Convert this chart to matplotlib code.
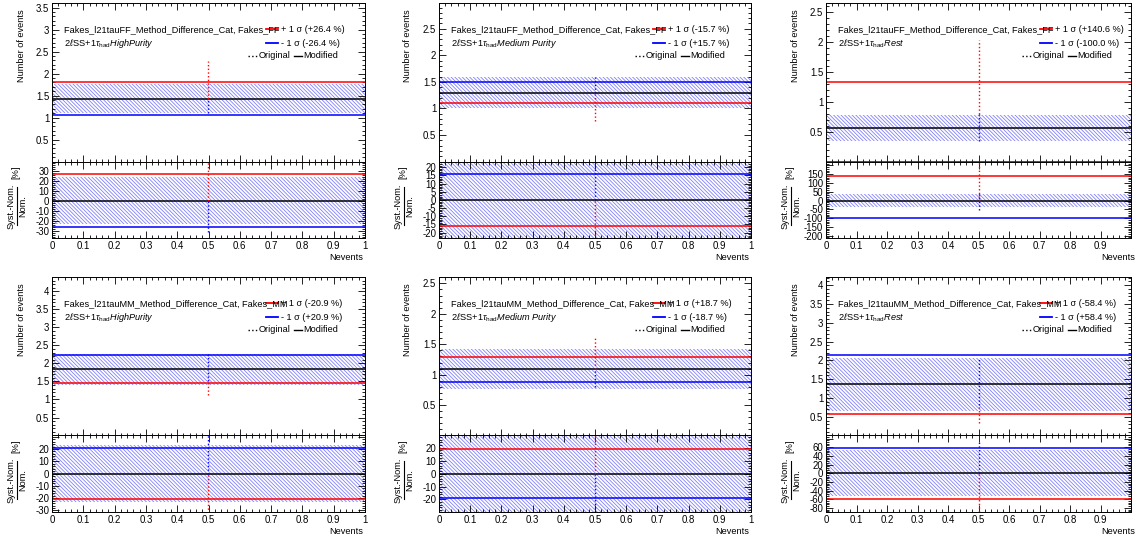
import matplotlib
matplotlib.use("Agg")
import matplotlib.pyplot as plt
from matplotlib.ticker import MultipleLocator, AutoMinorLocator, FuncFormatter

plt.rcParams['font.family'] = ['Liberation Sans', 'DejaVu Sans']
plt.rcParams['mathtext.fontset'] = 'custom'
plt.rcParams['mathtext.rm'] = 'Liberation Sans'
plt.rcParams['mathtext.it'] = 'Liberation Sans:italic'
plt.rcParams['mathtext.bf'] = 'Liberation Sans:bold'
plt.rcParams['hatch.linewidth'] = 0.6

# ---- data ----
titles = ["Fakes_l21tauFF_Method_Difference_Cat, Fakes_FF"] * 3 + \
         ["Fakes_l21tauMM_Method_Difference_Cat, Fakes_MM"] * 3
regions = ["HighPurity", "Medium\\ Purity", "Rest"] * 2

nominal = [1.43, 1.30, 0.557, 1.84, 1.09, 1.36]
syst_up = [1.81, 1.096, 1.340, 1.455, 1.294, 0.566]
syst_down = [1.053, 1.504, 0.0, 2.225, 0.886, 2.154]
stat_err = [0.33, 0.30, 0.215, 0.43, 0.326, 0.715]
up_pct = [26.4, -15.7, 140.6, -20.9, 18.7, -58.4]
down_pct = [-26.4, 15.7, -100.0, 20.9, -18.7, 58.4]

top_ymax = [3.6, 2.98, 2.65, 4.39, 2.6, 4.21]
ratio_ylim = [(-37.6, 39), (-23.5, 23.5), (-215, 222), (-31.5, 31), (-29.9, 29.4), (-90, 87)]
ratio_step = [10, 5, 50, 10, 10, 20]

# dotted error bars at the bin centre
top_red_bar = [(1.43, 2.28), (0.77, 1.30), (0.80, 2.04), (1.12, 1.50), (1.10, 1.61), (0.34, 0.82)]
top_blue_bar = [(1.10, 1.43), (1.30, 1.60), (0.35, 0.80), (1.50, 2.29), (0.79, 1.10), (0.82, 2.06)]
ratio_red_bar = [(0, 40), (-24, 0), (0, 230), (-32, 0), (0, 30), (-90, 0)]
ratio_blue_bar = [(-31, 0), (0, 24), (-55, 40), (0, 32), (-30, 0), (0, 75)]

bin_edges = [0, 1]
bin_centre = 0.5

# ---- layout (pixels) ----
W, H = 1137, 539
fig = plt.figure(figsize=(W / 100, H / 100), dpi=100)

left_px = [52, 439, 826]
width_px = [313, 312, 305]
row_off = [0, 274]
TOP_Y, TOP_H = 3.3, 158.2
RAT_Y, RAT_H = 161.5, 76.8
FS = 6.6
TFS = 6.9
HATCH = '\\' * 9
BAND_COL = (0, 0, 1, 0.5)


def px_axes(x0, y0, w, h):
    return fig.add_axes([x0 / W, 1 - (y0 + h) / H, w / W, h / H])


def style(ax):
    ax.tick_params(which='both', direction='in', top=True, right=True,
                   labelsize=TFS, pad=2, width=0.6)
    ax.tick_params(which='major', length=5)
    ax.tick_params(which='minor', length=2.5)
    for s in ax.spines.values():
        s.set_linewidth(0.7)


for i in range(6):
    col, row = i % 3, i // 3
    x0, w = left_px[col], width_px[col]
    off = row_off[row]

    # ---------- upper pad ----------
    ax = px_axes(x0, TOP_Y + off, w, TOP_H)
    nom, err = nominal[i], stat_err[i]
    ax.fill_between(bin_edges, nom - err, nom + err, facecolor='none',
                    edgecolor=BAND_COL, hatch=HATCH, linewidth=0)
    ax.plot(bin_edges, [nom, nom], color='black', lw=1.1)
    ax.plot(bin_edges, [syst_up[i]] * 2, color='red', lw=1.1)
    ax.plot(bin_edges, [syst_down[i]] * 2, color='blue', lw=1.1)
    ax.plot([bin_centre] * 2, top_red_bar[i], color='red', ls=':', lw=1)
    ax.plot([bin_centre] * 2, top_blue_bar[i], color='blue', ls=':', lw=1)
    ax.set_xlim(0, 1)
    ax.set_ylim(0.001, top_ymax[i])
    ax.xaxis.set_major_locator(MultipleLocator(0.1))
    ax.xaxis.set_minor_locator(AutoMinorLocator(5))
    ax.yaxis.set_major_locator(MultipleLocator(0.5))
    ax.yaxis.set_minor_locator(AutoMinorLocator(5))
    ax.yaxis.set_major_formatter(FuncFormatter(lambda v, p: '%g' % v))
    ax.tick_params(labelbottom=False)
    style(ax)
    ax.text(-31 / w, 1 - 6 / TOP_H, 'Number of events', fontsize=FS, rotation=90,
            ha='center', va='top', transform=ax.transAxes)

    def tx(px):
        return px / w

    def ty(px):
        return 1 - px / TOP_H

    ax.text(tx(12), ty(26), titles[i], fontsize=FS, va='center', transform=ax.transAxes)
    ax.text(tx(12), ty(40), r'2$\ell$SS$\!+\!$1$\tau_{\mathrm{had}}\mathit{' + regions[i] + '}$',
            fontsize=FS, va='center', transform=ax.transAxes)
    ax.plot([tx(214), tx(226)], [ty(26)] * 2, color='red', lw=1.3, transform=ax.transAxes)
    ax.text(tx(229), ty(26), '+ 1 σ (%+.1f %%)' % up_pct[i], fontsize=FS, va='center',
            transform=ax.transAxes)
    ax.plot([tx(214), tx(226)], [ty(40)] * 2, color='blue', lw=1.3, transform=ax.transAxes)
    ax.text(tx(229), ty(40), '- 1 σ (%+.1f %%)' % down_pct[i], fontsize=FS, va='center',
            transform=ax.transAxes)
    ax.plot([tx(196), tx(205)], [ty(52.5)] * 2, color='black', lw=1, ls=':', transform=ax.transAxes)
    ax.text(tx(207), ty(52.5), 'Original', fontsize=FS, va='center', transform=ax.transAxes)
    ax.plot([tx(242), tx(250)], [ty(52.5)] * 2, color='black', lw=1, transform=ax.transAxes)
    ax.text(tx(251), ty(52.5), 'Modified', fontsize=FS, va='center', transform=ax.transAxes)

    # ---------- ratio pad ----------
    rx = px_axes(x0, RAT_Y + off, w, RAT_H)
    rel = err / nom * 100
    rx.fill_between(bin_edges, -rel, rel, facecolor='none',
                    edgecolor=BAND_COL, hatch=HATCH, linewidth=0)
    rx.plot(bin_edges, [0, 0], color='black', lw=1.1)
    rx.plot(bin_edges, [up_pct[i]] * 2, color='red', lw=1.1)
    rx.plot(bin_edges, [down_pct[i]] * 2, color='blue', lw=1.1)
    rx.plot([bin_centre] * 2, ratio_red_bar[i], color='red', ls=':', lw=1)
    rx.plot([bin_centre] * 2, ratio_blue_bar[i], color='blue', ls=':', lw=1)
    lo, hi = ratio_ylim[i]
    rx.set_xlim(0, 1)
    rx.set_ylim(lo, hi)
    rx.xaxis.set_major_locator(MultipleLocator(0.1))
    rx.xaxis.set_minor_locator(AutoMinorLocator(5))
    rx.yaxis.set_major_locator(MultipleLocator(ratio_step[i]))
    rx.yaxis.set_minor_locator(AutoMinorLocator(5))
    cut = hi - 0.06 * (hi - lo)
    rx.yaxis.set_major_formatter(FuncFormatter(lambda v, p, c=cut: '' if v > c else '%g' % v))
    if col == 2:
        rx.xaxis.set_major_formatter(FuncFormatter(lambda v, p: '' if v > 0.99 else '%g' % v))
    else:
        rx.xaxis.set_major_formatter(FuncFormatter(lambda v, p: '%g' % v))
    style(rx)

    # fraction-style axis title: Syst.-Nom. over Nom. [%]
    def rxx(px):
        return px / w

    def ryy(px):
        return 1 - px / RAT_H

    rx.text(rxx(-41), ryy(44.5), 'Syst.-Nom.', fontsize=FS, rotation=90,
            ha='center', va='center', transform=rx.transAxes)
    rx.text(rxx(-29.5), ryy(44.5), 'Nom.', fontsize=FS, rotation=90,
            ha='center', va='center', transform=rx.transAxes)
    rx.plot([rxx(-35.5)] * 2, [ryy(25.5), ryy(63.5)], color='black', lw=0.8,
            transform=rx.transAxes, clip_on=False)
    rx.text(rxx(-36), ryy(10.5), '[%]', fontsize=FS, rotation=90,
            ha='center', va='center', transform=rx.transAxes)

    rx.set_xlabel('Nevents', fontsize=FS, loc='right')
    rx.xaxis.set_label_coords(1.0 + (4 if col == 2 else -2) / w, -15 / RAT_H)

fig.savefig('out.png', dpi=100)
